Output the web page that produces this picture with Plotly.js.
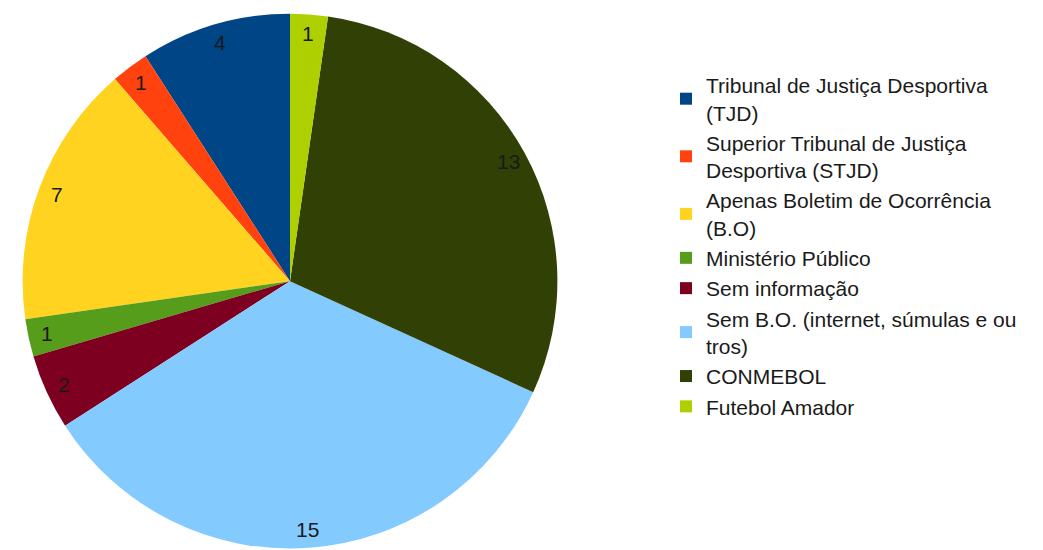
<!DOCTYPE html>
<html>
<head>
<meta charset="utf-8">
<script src="https://cdn.plot.ly/plotly-3.0.1.min.js"></script>
<style>html,body{margin:0;padding:0;background:#fff;}#chart{width:1043px;height:550px;}</style>
</head>
<body>
<div id="chart"></div>
<script>
const categories = [
  "Tribunal de Justiça Desportiva<br>(TJD)",
  "Superior Tribunal de Justiça<br>Desportiva (STJD)",
  "Apenas Boletim de Ocorrência<br>(B.O)",
  "Ministério Público",
  "Sem informação",
  "Sem B.O. (internet, súmulas e ou<br>tros)",
  "CONMEBOL",
  "Futebol Amador"
];
const values = [4, 1, 7, 1, 2, 15, 13, 1];
const colors = ["#004586", "#ff420e", "#ffd320", "#579d1c", "#7e0021", "#83caff", "#314004", "#aecf00"];

const W = 1043, H = 550;
const dom = { x: [0.0216, 0.5345], y: [0.0027, 0.975] };
const cxPx = (dom.x[0] + dom.x[1]) / 2 * W;
const cyPx = (dom.y[0] + dom.y[1]) / 2 * H;
const rPx = Math.min((dom.x[1] - dom.x[0]) * W, (dom.y[1] - dom.y[0]) * H) / 2;

// Value labels near the rim, placed from the cumulative values (counterclockwise from top)
const total = values.reduce((a, b) => a + b, 0);
let cum = 0;
const annotations = values.map((v, i) => {
  const mid = (cum + v / 2) / total * 2 * Math.PI;
  cum += v;
  const rr = 0.93 * rPx;
  const px = cxPx - rr * Math.sin(mid);
  const py = cyPx + rr * Math.cos(mid);
  return {
    x: px / W, y: py / H, xref: "paper", yref: "paper",
    text: String(v), showarrow: false,
    xanchor: "center", yanchor: "middle",
    font: { family: "Liberation Sans, Arial, sans-serif", size: 21, color: "#1a1a1a" }
  };
});

const trace = {
  type: "pie",
  labels: categories,
  values: values,
  marker: { colors: colors, line: { width: 0 } },
  sort: false,
  direction: "counterclockwise",
  rotation: -values[0] / total * 360,
  textinfo: "none",
  hoverinfo: "label+value",
  domain: dom
};

const layout = {
  width: W, height: H,
  margin: { l: 0, r: 0, t: 0, b: 0 },
  paper_bgcolor: "#ffffff",
  font: { family: "Liberation Sans, Arial, sans-serif", size: 21, color: "#1a1a1a" },
  showlegend: true,
  legend: {
    x: 666 / W, y: 0.882, xanchor: "left", yanchor: "top",
    font: { family: "Liberation Sans, Arial, sans-serif", size: 21, color: "#1a1a1a" },
    itemwidth: 30, traceorder: "normal",
    bgcolor: "rgba(0,0,0,0)"
  },
  annotations: annotations
};

Plotly.newPlot("chart", [trace], layout, { displayModeBar: false, staticPlot: true });
</script>
</body>
</html>
